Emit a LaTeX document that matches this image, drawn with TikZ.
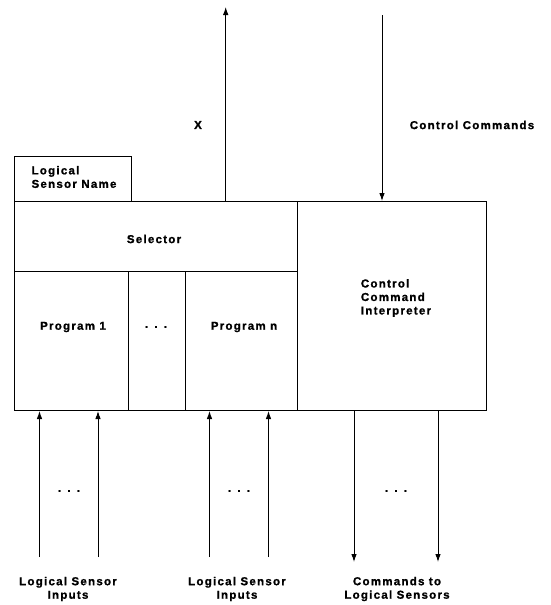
\documentclass[tikz,border=0pt]{standalone}
\usepackage{fontspec}
\setmainfont{Liberation Sans}
\newfontfamily\lab[LetterSpace=11,FakeBold=1.2]{Liberation Sans}
\usetikzlibrary{arrows.meta}
\begin{document}
\begin{tikzpicture}[x=1pt,y=-1pt,
  box/.style={draw,line width=1pt,rectangle,anchor=north west,inner sep=0pt},
  txt/.style={font=\lab\bfseries\fontsize{11.5}{13.5}\selectfont,inner sep=0pt,align=center},
  arr/.style={line width=0.9pt,-{Latex[length=8pt,width=5.5pt]}},
  dots/.style={font=\lab\bfseries\fontsize{12}{14}\selectfont,inner sep=0pt}]
\useasboundingbox (0,0) rectangle (550,605);
% boxes
\node[box,minimum width=117pt,minimum height=45pt] (lsn) at (14,156) {};
\node[box,minimum width=283pt,minimum height=70pt] (sel) at (14,201) {};
\node[box,minimum width=114pt,minimum height=139pt] (p1) at (14,271) {};
\node[box,minimum width=57pt,minimum height=139pt] (pd) at (128,271) {};
\node[box,minimum width=112pt,minimum height=139pt] (pn) at (185,271) {};
\node[box,minimum width=189pt,minimum height=209pt] (cci) at (297,201) {};
% texts
\node[txt,align=left] (lsnt) at (74,177) {Logical\\Sensor Name};
\node[txt] (selt) at (154,239) {Selector};
\node[txt] (p1t) at (73,327) {Program 1};
\node[dots] (pdt) at (156,327) {. . .};
\node[txt] (pnt) at (244,327) {Program n};
\node[txt,align=left] (ccit) at (396,298) {Control\\Command\\Interpreter};
% top arrows
\coordinate (xt) at (225.7,7);
\coordinate (cs) at (382,15);
\draw[arr] (xt |- sel.north) -- (xt);
\draw[arr] (cs) -- (cs |- cci.north);
\node[txt] (xl) at (198,125) {X};
\node[txt] (csl) at (472,125) {Control Commands};
% bottom arrows
\coordinate (i1) at (39.5,557);
\coordinate (i2) at (98,557);
\coordinate (i3) at (209.5,557);
\coordinate (i4) at (268.5,557);
\coordinate (o1) at (354,562);
\coordinate (o2) at (438,562);
\draw[arr] (i1) -- (i1 |- p1.south);
\draw[arr] (i2) -- (i2 |- p1.south);
\draw[arr] (i3) -- (i3 |- pn.south);
\draw[arr] (i4) -- (i4 |- pn.south);
\draw[arr] (o1 |- cci.south) -- (o1);
\draw[arr] (o2 |- cci.south) -- (o2);
\node[dots] (d1) at (69,491) {. . .};
\node[dots] (d2) at (239,491) {. . .};
\node[dots] (d3) at (396,491) {. . .};
% bottom labels
\node[txt] (l1) at (68,589) {Logical Sensor\\Inputs};
\node[txt] (l2) at (237,589) {Logical Sensor\\Inputs};
\node[txt] (l3) at (397,589) {Commands to\\Logical Sensors};
\end{tikzpicture}
\end{document}
